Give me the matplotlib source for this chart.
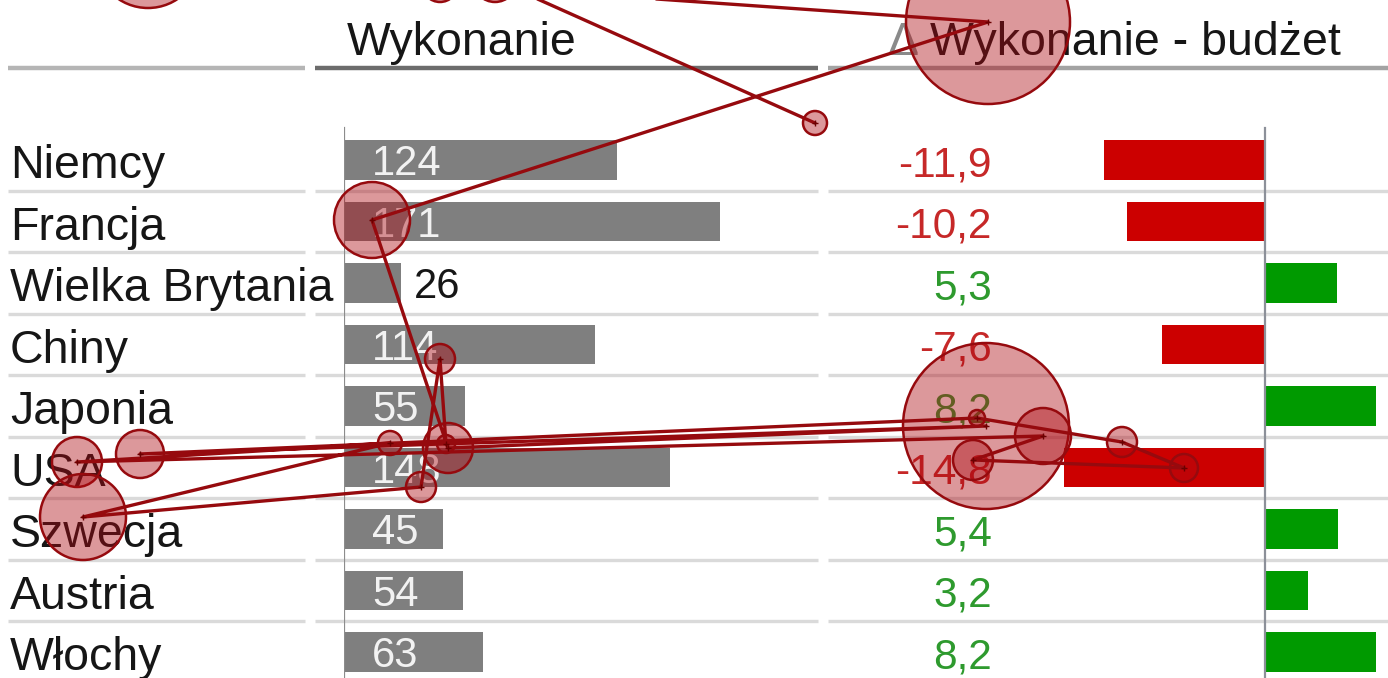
import matplotlib
matplotlib.use("Agg")
import matplotlib.pyplot as plt
from matplotlib.patches import Circle

# ---------------- data ----------------
categories = ["Niemcy", "Francja", "Wielka Brytania", "Chiny", "Japonia",
              "USA", "Szwecja", "Austria", "Włochy"]
wykonanie = [124, 171, 26, 114, 55, 148, 45, 54, 63]
delta = [-11.9, -10.2, 5.3, -7.6, 8.2, -14.8, 5.4, 3.2, 8.2]
header_left = "Wykonanie"
header_right_sym = "Δ"
header_right = "Wykonanie - budżet"

# eye-tracking scanpath overlay (screen pixels, in viewing order)
fix_x = [815, 495, 148, 440, 988, 372, 448, 986, 140, 977, 1122, 1184, 973, 1043, 77, 390, 83, 421, 440, 446]
fix_y = [123, -20, -45, -16, 22, 220, 448, 426, 454, 418, 442, 468, 460, 436, 462, 443, 517, 487, 359, 444]
fix_r = [12, 22, 53, 18, 82, 38, 25, 83, 24, 8, 15, 14, 20, 28, 25, 12, 43, 15, 15, 9]

# ---------------- layout ----------------
W, H = 1388, 678
ROW0, ROWH = 160.0, 61.5           # pixel centre of first row, row pitch
YT = -ROW0 / ROWH
YB = (H - ROW0) / ROWH
FONT = "Liberation Sans"
plt.rcParams["font.family"] = [FONT, "DejaVu Sans"]

fig = plt.figure(figsize=(W / 100, H / 100), dpi=100)

def col_axes(left, right):
    ax = fig.add_axes([left / W, 0, (right - left) / W, 1])
    ax.set_ylim(YB, YT)
    ax.axis("off")
    return ax

ax_bg = col_axes(0, W)
ax_bg.set_xlim(0, W)

# Wykonanie column: baseline at 344 px, 2.2 px per unit
W_LEFT, W_RIGHT, W_SCALE = 344, 818, 2.2
ax_w = col_axes(W_LEFT, W_RIGHT)
ax_w.set_xlim(0, (W_RIGHT - W_LEFT) / W_SCALE)

# Delta column: zero at 1265 px, 13.55 px per unit
D_LEFT, D_ZERO, D_SCALE = 828, 1265, 13.55
ax_d = col_axes(D_LEFT, W)
ax_d.set_xlim(-(D_ZERO - D_LEFT) / D_SCALE, (W - D_ZERO) / D_SCALE)

rows = list(range(len(categories)))
txt_dark = "#161616"

# header line and row separators
segments = [(8, 305), (315, 818), (828, W)]
head_cols = ["#b5b5b5", "#6c6c6c", "#a3a3a3"]
for (a, b), c in zip(segments, head_cols):
    ax_bg.plot([a, b], [-1.5, -1.5], color=c, lw=3.2, solid_capstyle="butt", zorder=1)
for i in rows[:-1]:
    for a, b in segments:
        ax_bg.plot([a, b], [i + 0.5, i + 0.5], color="#dadada", lw=2.4,
                   solid_capstyle="butt", zorder=1)

# headers
ax_bg.text(462, -1.707, header_left, ha="center", va="baseline",
           fontsize=33.5, color=txt_dark)
ax_bg.text(888, -1.707, header_right_sym, ha="left", va="baseline",
           fontsize=33.5, color="#8a8a8a")
ax_bg.text(1341, -1.707, header_right, ha="right", va="baseline",
           fontsize=33.5, color=txt_dark)

# category labels
for i, name in zip(rows, categories):
    ax_bg.text(10, i + 0.293, name, ha="left", va="baseline",
               fontsize=33.5, color=txt_dark, zorder=3)

# Wykonanie bars
ax_w.barh(rows, wykonanie, height=0.65, color="#7f7f7f", zorder=2)
ax_w.plot([0, 0], [-0.52, YB], color="#8c8c8c", lw=1.6, zorder=3)
for i, v in zip(rows, wykonanie):
    if v >= 40:
        ax_w.annotate(str(v), xy=(0, i + 0.25), xytext=(28, 0),
                      textcoords="offset pixels", ha="left", va="baseline",
                      fontsize=30, color="#f2f2f2", zorder=4)
    else:
        ax_w.annotate(str(v), xy=(v, i + 0.25), xytext=(13, 0),
                      textcoords="offset pixels", ha="left", va="baseline",
                      fontsize=30, color=txt_dark, zorder=4)

# Delta bars and values
red_bar, green_bar = "#cc0000", "#009a00"
red_txt, green_txt = "#c62828", "#2e9a2e"
ax_d.barh(rows, delta, height=0.65,
          color=[red_bar if d < 0 else green_bar for d in delta], zorder=2)
ax_d.plot([0, 0], [-0.52, YB], color="#8c9099", lw=1.6, zorder=3)
for i, d in zip(rows, delta):
    lab = f"{d:.1f}".replace(".", ",")
    ax_bg.text(992, i + 0.265, lab, ha="right", va="baseline", fontsize=30.5,
               color=red_txt if d < 0 else green_txt, zorder=3)

# eye-tracking overlay
ax_eye = fig.add_axes([0, 0, 1, 1], zorder=10)
ax_eye.set_xlim(0, W)
ax_eye.set_ylim(H, 0)
ax_eye.axis("off")
ax_eye.patch.set_alpha(0)
line_col = "#960a0e"
for x, y, r in zip(fix_x, fix_y, fix_r):
    ax_eye.add_patch(Circle((x, y), r, facecolor=(0.68, 0.04, 0.07, 0.42),
                            edgecolor=line_col, lw=1.8, zorder=1))
ax_eye.plot(fix_x, fix_y, color=line_col, lw=2.4, zorder=2,
            solid_capstyle="round", solid_joinstyle="round")
ax_eye.plot(fix_x, fix_y, ls="none", marker="+", ms=4, mew=1,
            color="#6a0000", zorder=3)

fig.savefig("out.png", dpi=100)
